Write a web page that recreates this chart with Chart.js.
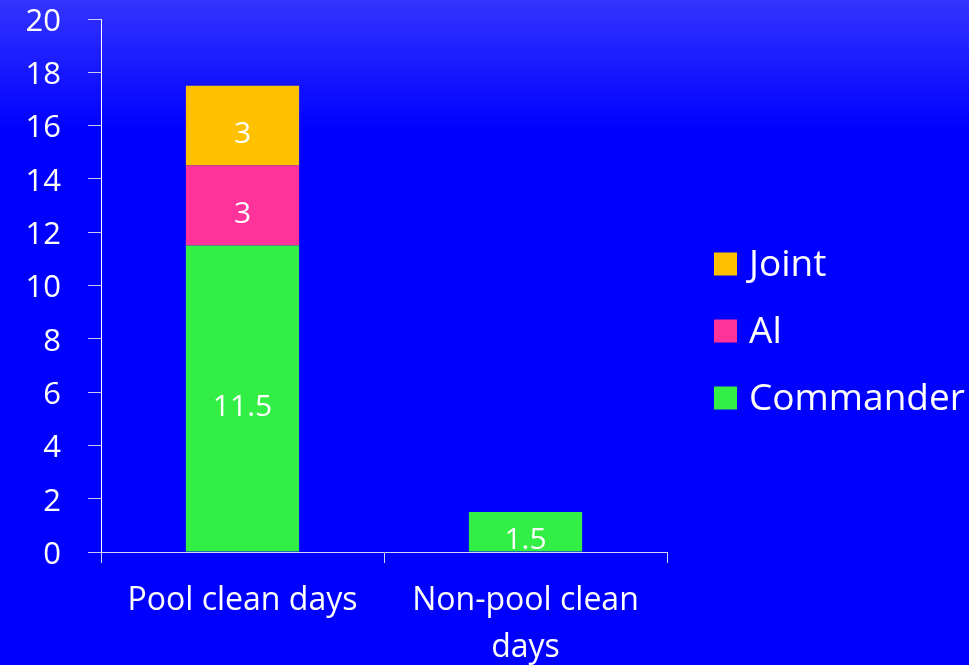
<!DOCTYPE html>
<html>
<head>
<meta charset="utf-8">
<script src="https://cdn.jsdelivr.net/npm/chart.js@4/dist/chart.umd.min.js"></script>
<style>
  html, body { margin: 0; padding: 0; background: #0000ff; }
  #wrap { width: 969px; height: 665px; }
</style>
</head>
<body>
<div id="wrap"><canvas id="daysChart" width="969" height="665"></canvas></div>
<script>
var categories = [['Pool clean days'], ['Non-pool clean', 'days']];
var commander = [11.5, 1.5];
var al = [3, 0];
var joint = [3, 0];
var yTicks = [0, 2, 4, 6, 8, 10, 12, 14, 16, 18, 20];

var FONT = '"Open Sans", sans-serif';

// blue backdrop, a little lighter along the top edge
var backdrop = {
    id: 'backdrop',
    beforeDraw: function(chart) {
        var c = chart.ctx;
        var g = c.createLinearGradient(0, 0, 0, 130);
        g.addColorStop(0, '#3434ff');
        g.addColorStop(1, '#0000ff');
        c.save();
        c.fillStyle = g;
        c.fillRect(0, 0, chart.width, chart.height);
        c.restore();
    }
};

// value written a little below the middle of each segment, kept inside the bar
var segmentLabels = {
    id: 'segmentLabels',
    afterDatasetsDraw: function(chart) {
        var c = chart.ctx;
        c.save();
        c.fillStyle = '#ffffff';
        c.font = '30px ' + FONT;
        c.textAlign = 'center';
        c.textBaseline = 'middle';
        chart.data.datasets.forEach(function(ds, i) {
            chart.getDatasetMeta(i).data.forEach(function(bar, j) {
                var v = ds.data[j];
                if (!v) return;
                var y = Math.min((bar.y + bar.base) / 2 + 9, bar.base - 10);
                c.fillText(String(v), bar.x, y);
            });
        });
        c.restore();
    }
};

// legend on the right, top series first
var sideLegend = {
    id: 'sideLegend',
    afterDraw: function(chart) {
        var c = chart.ctx;
        var ds = chart.data.datasets.slice().reverse();
        var x = 714, y0 = 264, step = 67, box = 23;
        c.save();
        c.font = '37px ' + FONT;
        c.textBaseline = 'middle';
        ds.forEach(function(d, i) {
            var y = y0 + i * step;
            c.fillStyle = d.backgroundColor;
            c.fillRect(x, y - box / 2, box, box);
            c.fillStyle = '#ffffff';
            c.fillText(d.label, x + box + 12, y + 1);
        });
        c.restore();
    }
};

var ctx = document.getElementById('daysChart').getContext('2d');
var chart = new Chart(ctx, {
    type: 'bar',
    data: {
        labels: categories,
        datasets: [
            { label: 'Commander', data: commander, backgroundColor: '#33ee44' },
            { label: 'Al', data: al, backgroundColor: '#ff3399' },
            { label: 'Joint', data: joint, backgroundColor: '#ffc000' }
        ]
    },
    options: {
        responsive: false,
        animation: false,
        layout: { padding: { top: 19, right: 302, bottom: 0, left: 10 } },
        datasets: { bar: { barPercentage: 0.4, categoryPercentage: 1 } },
        plugins: {
            legend: { display: false },
            tooltip: { enabled: false }
        },
        scales: {
            x: {
                stacked: true,
                afterFit: function(scale) {
                    scale.height = 113;
                    scale.paddingLeft = 0;
                    scale.paddingRight = 0;
                },
                border: { color: '#d4d4f4', width: 1 },
                grid: { drawOnChartArea: false, color: '#d4d4f4', tickLength: 11 },
                ticks: {
                    color: '#ffffff',
                    font: { family: FONT, size: 32, lineHeight: 1.45 },
                    padding: 15,
                    maxRotation: 0,
                    autoSkip: false
                }
            },
            y: {
                stacked: true,
                min: 0,
                max: 20,
                afterBuildTicks: function(scale) {
                    scale.ticks = yTicks.map(function(v) { return { value: v }; });
                },
                afterFit: function(scale) {
                    scale.width = 91;
                    scale.paddingTop = 0;
                    scale.paddingBottom = 0;
                },
                border: { color: '#ffffff', width: 1 },
                grid: { drawOnChartArea: false, color: '#c8c8ee', tickLength: 13 },
                ticks: { color: '#ffffff', font: { family: FONT, size: 31 }, padding: 27, labelOffset: 3 }
            }
        }
    },
    plugins: [backdrop, segmentLabels, sideLegend]
});
</script>
</body>
</html>
